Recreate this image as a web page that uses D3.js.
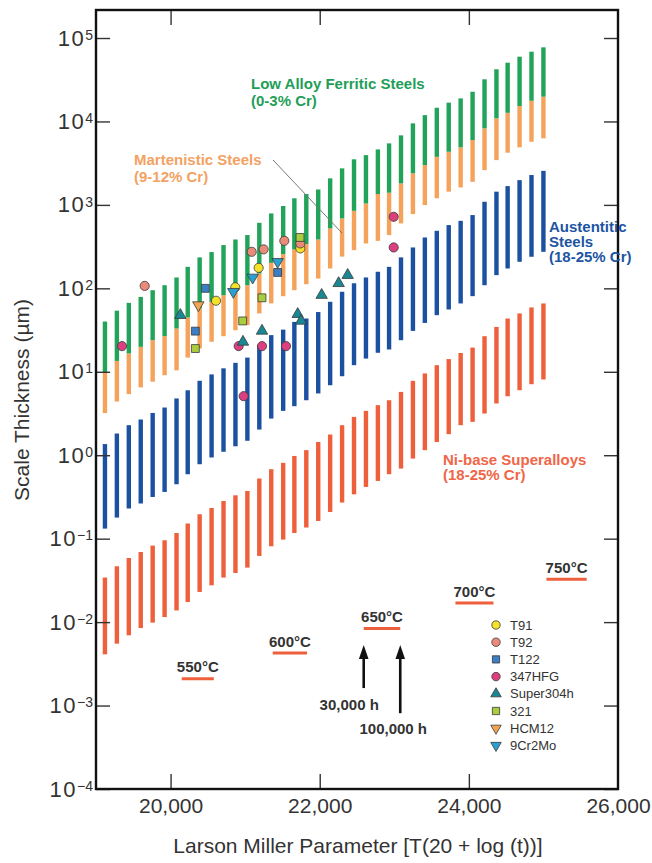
<!DOCTYPE html>
<html>
<head>
<meta charset="utf-8">
<script src="https://cdn.jsdelivr.net/npm/d3@7"></script>
<style>
  body { margin: 0; background: #fff; }
  svg { display: block; }
  text { font-family: "Liberation Sans", Arial, Helvetica, sans-serif; }
</style>
</head>
<body>
<svg id="chart" width="652" height="863"></svg>
<script>
// Larson-Miller parameter of each scatter band column
const lmp = [19120, 19280, 19440, 19600, 19760, 19920, 20080, 20230, 20390, 20550,
             20710, 20870, 21030, 21190, 21350, 21510, 21660, 21820, 21980, 22140,
             22300, 22460, 22620, 22780, 22930, 23090, 23250, 23410, 23570, 23730,
             23890, 24050, 24210, 24370, 24520, 24680, 24840, 25000];

// Scale thickness bands (µm)
const ferriticTop = [40, 54, 67, 79, 95, 109, 135, 181, 235, 272, 330, 385, 435, 610, 790, 970,
                     1200, 1350, 1530, 2080, 2740, 3520, 3950, 4620, 5460, 6810, 9490, 11900,
                     14600, 16800, 18900, 22700, 32000, 42200, 50600, 59700, 68500, 77300];
const ferriticBottom = [9.8, 13.5, 16.6, 19.9, 23.9, 26.7, 33, 44.8, 57.4, 68.9, 82.8, 97, 109,
                        151, 202, 257, 293, 339, 385, 523, 689, 849, 1040, 1350, 1400, 1810, 2390,
                        3000, 3770, 4330, 4890, 5980, 8270, 10900, 12700, 15300, 17700, 19800];
const martensiticTop = ferriticBottom;
const martensiticBottom = [3.2, 4.4, 5.4, 6.5, 7.6, 9.1, 10.4, 14.8, 19, 22.9, 26.7, 31.5, 36.2,
                           50, 66, 80.5, 95, 112, 131, 173, 240, 287, 345, 371, 435, 600, 776,
                           995, 1200, 1440, 1620, 1890, 2610, 3440, 4220, 4890, 5710, 6270];
const austeniticTop = [1.36, 1.82, 2.29, 2.68, 3.21, 3.73, 4.79, 6.0, 7.8, 9.3, 11, 12.8, 14.8,
                       20.8, 27.5, 32, 39.6, 43.5, 52, 69, 91, 115, 135, 158, 181, 235, 309, 407,
                       489, 573, 644, 755, 1090, 1440, 1680, 1980, 2280, 2560];
const austeniticBottom = [0.132, 0.179, 0.230, 0.264, 0.316, 0.363, 0.449, 0.592, 0.780, 0.94,
                          1.10, 1.28, 1.49, 2.03, 2.75, 3.40, 3.87, 4.56, 5.50, 6.90, 8.85, 12.0,
                          14.4, 16.9, 18.5, 23.9, 30.9, 38.5, 47.7, 55.8, 65.9, 80.6, 109, 144,
                          173, 208, 239, 274];
const nickelTop = [0.0342, 0.0467, 0.0587, 0.0692, 0.0826, 0.0957, 0.117, 0.152, 0.196, 0.233,
                   0.283, 0.331, 0.373, 0.526, 0.68, 0.81, 0.98, 1.15, 1.44, 1.77, 2.29, 2.88,
                   3.40, 3.98, 4.56, 5.74, 7.78, 9.55, 12.0, 14.2, 16.8, 19.5, 26.7, 34.5, 43.5,
                   50, 59, 65.9];
const nickelBottom = [0.00411, 0.00552, 0.00695, 0.00849, 0.00986, 0.0115, 0.0138, 0.0174, 0.0230,
                      0.0276, 0.0342, 0.0388, 0.0450, 0.0621, 0.0811, 0.0975, 0.117, 0.136, 0.163,
                      0.209, 0.271, 0.340, 0.417, 0.492, 0.592, 0.692, 0.912, 1.15, 1.44, 1.79,
                      2.29, 2.51, 3.16, 4.17, 5.09, 6.01, 7.10, 8.09];

// Measured alloys: [LMP, thickness µm]
const alloyNames = ["T91", "T92", "T122", "347HFG", "Super304h", "321", "HCM12", "9Cr2Mo"];
const t91 = [[20609, 71], [20868, 103], [21181, 176], [21740, 301]];
const t92 = [[19653, 107], [21088, 274], [21248, 293], [21525, 371], [21740, 345]];
const t122 = [[20332, 30.7], [20466, 100], [21436, 155]];
const hfg347 = [[19349, 20.3], [20913, 20.3], [20980, 5.1], [21226, 20.3], [21548, 20.3],
                [22992, 720], [22992, 309]];
const super304h = [[20131, 47.7], [20971, 22.8], [21226, 30.9], [21705, 49], [21749, 40.7],
                   [22026, 83], [22254, 115], [22375, 144]];
const ss321 = [[20332, 19], [20967, 40.7], [21226, 77], [21736, 407]];
const hcm12 = [[20372, 63]];
const cr2mo9 = [[20841, 91], [21101, 135], [21436, 208]];

// Service temperature windows (30,000 h to 100,000 h)
const tempLabels = ["550°C", "600°C", "650°C", "700°C", "750°C"];
const tempStart = [20150, 21370, 22590, 23820, 25040];
const tempEnd = [20580, 21830, 23080, 24330, 25580];
const tempLevel = [0.0021, 0.00426, 0.00836, 0.0169, 0.0326];

// Exposure-time arrows at 650°C
const hourLabels = ["30,000 h", "100,000 h"];
const hourLmp = [22590, 23080];
const hourTip = [0.0053, 0.0053];
const hourTail = [0.00162, 0.00081];

// Axis ticks
const xTicks = [20000, 22000, 24000, 26000];
const yTicks = [1e-4, 1e-3, 1e-2, 1e-1, 1, 10, 100, 1e3, 1e4, 1e5];

// ---------------------------------------------------------------------------
const svg = d3.select("#chart");
const frame = { left: 96, right: 618, top: 10, bottom: 789 };

const x = d3.scaleLinear().domain([19000, 26000]).range([frame.left, frame.right]);
const y = d3.scaleLog().domain([1e-4, 2.166e5]).range([frame.bottom, frame.top]);

const colors = {
  ferritic: "#22a35a",
  martensitic: "#f5a25a",
  austenitic: "#1b51a0",
  nickel: "#ee5f3c"
};

// Bands
const barW = 4.4;
function band(top, bottom, color) {
  svg.append("g").selectAll("rect")
    .data(lmp.map((p, i) => ({ p, hi: top[i], lo: bottom[i] })))
    .join("rect")
    .attr("x", d => x(d.p) - barW / 2)
    .attr("width", barW)
    .attr("y", d => y(d.hi))
    .attr("height", d => y(d.lo) - y(d.hi))
    .attr("fill", color);
}
band(nickelTop, nickelBottom, colors.nickel);
band(austeniticTop, austeniticBottom, colors.austenitic);
band(martensiticTop, martensiticBottom, colors.martensitic);
band(ferriticTop, ferriticBottom, colors.ferritic);

// Axes
const tickColor = "#333";
const labelColor = "#333";

const gLeft = svg.append("g").attr("transform", `translate(${frame.left},0)`)
  .call(d3.axisLeft(y).tickValues(yTicks).tickSizeInner(-14).tickSizeOuter(0).tickPadding(3)
    .tickFormat(() => ""));
gLeft.selectAll(".tick text").each(function (d) {
  const e = Math.round(Math.log10(d));
  const t = d3.select(this).attr("font-size", 22).attr("fill", labelColor);
  t.append("tspan").attr("letter-spacing", 1.5).text("10");
  t.append("tspan").attr("dy", "-0.42em").attr("font-size", 14)
    .text(e < 0 ? "\u2212" + (-e) : String(e));
});

svg.append("g").attr("transform", `translate(${frame.right},0)`)
  .call(d3.axisRight(y).tickValues(yTicks).tickSizeInner(-14).tickSizeOuter(0).tickFormat(() => ""));

svg.append("g").attr("transform", `translate(0,${frame.top})`)
  .call(d3.axisTop(x).tickValues(xTicks.slice(0, 3)).tickSizeInner(-15).tickSizeOuter(0)
    .tickFormat(() => ""));

const gBottom = svg.append("g").attr("transform", `translate(0,${frame.bottom})`)
  .call(d3.axisBottom(x).tickValues(xTicks).tickSizeInner(-15).tickSizeOuter(0).tickPadding(9)
    .tickFormat(d3.format(",")));
gBottom.selectAll(".tick text").attr("font-size", 21).attr("fill", labelColor);
gBottom.selectAll(".tick").filter(d => d === 26000).select("line").remove();

svg.selectAll(".domain").remove();
svg.selectAll(".tick line").attr("stroke", tickColor).attr("stroke-width", 1.4);

// Frame
svg.append("rect")
  .attr("x", frame.left).attr("y", frame.top)
  .attr("width", frame.right - frame.left).attr("height", frame.bottom - frame.top)
  .attr("fill", "none").attr("stroke", "#111").attr("stroke-width", 2.4);

// Axis titles
svg.append("text")
  .attr("x", 358).attr("y", 853)
  .attr("text-anchor", "middle").attr("font-size", 21).attr("fill", labelColor)
  .text("Larson Miller Parameter [T(20 + log (t))]");
svg.append("text")
  .attr("transform", "translate(29,400) rotate(-90)")
  .attr("text-anchor", "middle").attr("font-size", 21).attr("fill", labelColor)
  .text("Scale Thickness (\u00b5m)");

// Band labels
function label(lines, px, py, lh, color) {
  const t = svg.append("text").attr("font-size", 15).attr("font-weight", "bold").attr("fill", color);
  lines.forEach((s, i) => t.append("tspan").attr("x", px).attr("y", py + i * lh).text(s));
}
label(["Low Alloy Ferritic Steels", "(0-3% Cr)"], 251, 88.5, 17.4, "#1f9e58");
label(["Martenistic Steels", "(9-12% Cr)"], 134, 164.5, 17.4, "#f2a263");
label(["Austentitic", "Steels", "(18-25% Cr)"], 549, 231.5, 15.3, "#1d55a2");
label(["Ni-base Superalloys", "(18-25% Cr)"], 443, 465, 15.3, "#ef6648");

// Leader line to the martensitic band
svg.append("line")
  .attr("x1", x(21374)).attr("y1", y(3450))
  .attr("x2", x(22299)).attr("y2", y(460))
  .attr("stroke", "#777").attr("stroke-width", 1);

// Temperature windows
const temps = tempLabels.map((s, i) => ({ s, a: tempStart[i], b: tempEnd[i], v: tempLevel[i] }));
svg.append("g").selectAll("line").data(temps).join("line")
  .attr("x1", d => x(d.a)).attr("x2", d => x(d.b))
  .attr("y1", d => y(d.v)).attr("y2", d => y(d.v))
  .attr("stroke", colors.nickel).attr("stroke-width", 3);
svg.append("g").selectAll("text").data(temps).join("text")
  .attr("x", d => (x(d.a) + x(d.b)) / 2).attr("y", d => y(d.v) - 6.5)
  .attr("text-anchor", "middle").attr("font-size", 15).attr("font-weight", "bold")
  .attr("fill", "#333").text(d => d.s);

// Time arrows
const arrows = hourLabels.map((s, i) => ({ s, p: hourLmp[i], tip: hourTip[i], tail: hourTail[i] }));
const ga = svg.append("g");
arrows.forEach((d, i) => {
  const ax = x(d.p), ty = y(d.tip), by = y(d.tail);
  ga.append("line").attr("x1", ax).attr("x2", ax).attr("y1", ty + 10).attr("y2", by)
    .attr("stroke", "#111").attr("stroke-width", 2.6);
  ga.append("path")
    .attr("d", `M${ax},${ty} L${ax - 4.8},${ty + 14} L${ax + 4.8},${ty + 14} Z`)
    .attr("fill", "#111");
  ga.append("text")
    .attr("x", ax + (i === 0 ? -14.5 : -7)).attr("y", by + (i === 0 ? 22 : 21))
    .attr("text-anchor", "middle").attr("font-size", 15).attr("font-weight", "bold")
    .attr("fill", "#333").text(d.s);
});

// Alloy markers
const markerStyle = {
  "T91":       { shape: d3.symbolCircle,   size: 66, rot: 0,   fill: "#f4e22a" },
  "T92":       { shape: d3.symbolCircle,   size: 66, rot: 0,   fill: "#ea8b79" },
  "T122":      { shape: d3.symbolSquare,   size: 62, rot: 0,   fill: "#3b7ec4" },
  "347HFG":    { shape: d3.symbolCircle,   size: 66, rot: 0,   fill: "#dc3f80" },
  "Super304h": { shape: d3.symbolTriangle, size: 56, rot: 0,   fill: "#1a8894" },
  "321":       { shape: d3.symbolSquare,   size: 62, rot: 0,   fill: "#a9cd3e" },
  "HCM12":     { shape: d3.symbolTriangle, size: 56, rot: 180, fill: "#f2a352" },
  "9Cr2Mo":    { shape: d3.symbolTriangle, size: 56, rot: 180, fill: "#2aa0d2" }
};
const alloyData = [t91, t92, t122, hfg347, super304h, ss321, hcm12, cr2mo9];

const gm = svg.append("g");
alloyData.forEach((pts, k) => {
  const st = markerStyle[alloyNames[k]];
  const path = d3.symbol(st.shape, st.size)();
  gm.selectAll(null).data(pts).join("path")
    .attr("d", path)
    .attr("transform", d => `translate(${x(d[0])},${y(d[1])}) rotate(${st.rot})`)
    .attr("fill", st.fill).attr("stroke", "#3a3a3a").attr("stroke-width", 0.8);
});

// Legend
const gl = svg.append("g").attr("transform", "translate(496,625)");
alloyNames.forEach((n, i) => {
  const st = markerStyle[n];
  const row = gl.append("g").attr("transform", `translate(0,${i * 17.2})`);
  row.append("path").attr("d", d3.symbol(st.shape, st.size * 0.85)())
    .attr("transform", `rotate(${st.rot})`)
    .attr("fill", st.fill).attr("stroke", "#3a3a3a").attr("stroke-width", 0.8);
  row.append("text").attr("x", 14).attr("y", 4.6)
    .attr("font-size", 13).attr("fill", "#333").text(n);
});
</script>
</body>
</html>
